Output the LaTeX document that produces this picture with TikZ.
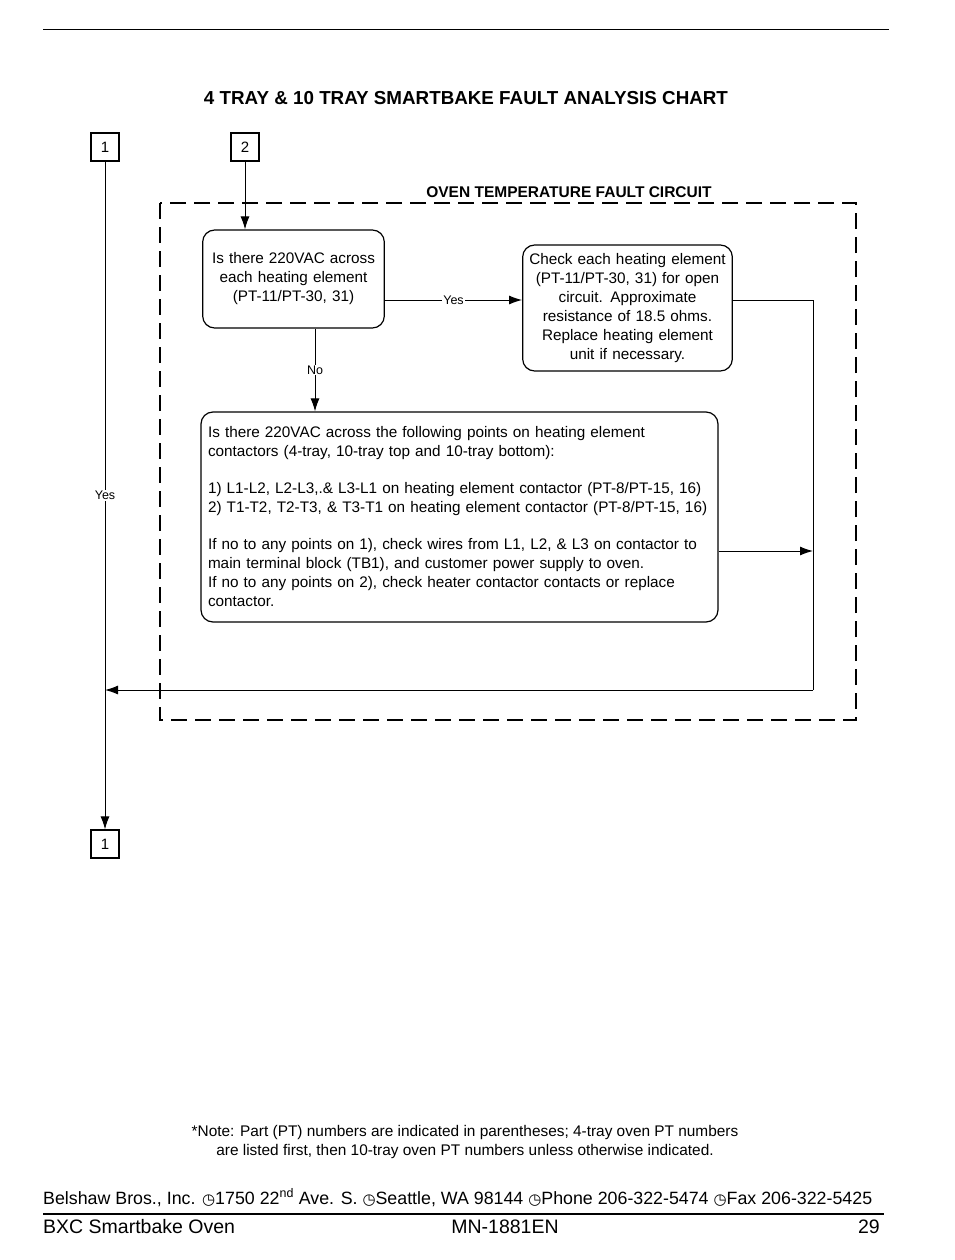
\documentclass[tikz,border=0pt]{standalone}
\usepackage{fontspec}
\setmainfont{Liberation Sans}
\newfontfamily\dingfont{DejaVu Sans}
\usetikzlibrary{arrows.meta}
\tikzset{
  flowbox/.style={draw,line width=1.2pt,rounded corners=12pt,inner ysep=0pt,font=\fontsize{15.3}{19}\selectfont},
  pagebox/.style={draw,line width=1.2pt,minimum size=28pt,inner sep=0pt,font=\fontsize{15}{18}\selectfont},
  flow/.style={line width=1pt,-{Latex[length=13pt,width=9pt]}},
  wire/.style={line width=1pt},
  tag/.style={fill=white,inner sep=1pt,font=\fontsize{12.5}{14}\selectfont}
}
\newcommand{\clk}{{\dingfont\fontsize{15}{16}\selectfont ◷}}

\begin{document}
\begin{tikzpicture}[x=1pt,y=-1pt]
    \useasboundingbox (0,0) rectangle (954,1260);
    \draw[line width=1pt] (43,30) -- (889,30);
    \node[font=\bfseries\fontsize{18.8}{22}\selectfont] (title) at (466,98) {4 TRAY \& 10 TRAY SMARTBAKE FAULT ANALYSIS CHART};
    \node[pagebox] (top1) at (105,147) {1};
    \node[pagebox] (top2) at (245,147) {2};
    \node[pagebox] (end1) at (105,844) {1};
    \draw[line width=2.6pt,dash pattern=on 16pt off 8pt] (160,203) rectangle (856,720);
    \node[font=\bfseries\fontsize{15.5}{16}\selectfont,anchor=base] (circuit) at (569,197) {OVEN TEMPERATURE FAULT CIRCUIT};
    \node[flowbox,text width=175pt,align=center,minimum height=98pt] (q1) at (293.5,279)
        {Is there 220VAC across\\each heating element\\(PT-11/PT-30, 31)};
    \node[flowbox,text width=203pt,align=center,minimum height=126pt] (chk) at (627.5,308)
        {Check each heating element\\(PT-11/PT-30, 31) for open\\circuit.  Approximate\\resistance of 18.5 ohms.\\Replace heating element\\unit if necessary.};
    \node[flowbox,text width=503pt,inner xsep=7pt,align=left,minimum height=210pt] (q2) at (459.5,517)
        {Is there 220VAC across the following points on heating element\\contactors (4-tray, 10-tray top and 10-tray bottom):\\[18pt]
        1) L1-L2, L2-L3,.\& L3-L1 on heating element contactor (PT-8/PT-15, 16)\\2) T1-T2, T2-T3, \& T3-T1 on heating element contactor (PT-8/PT-15, 16)\\[18pt]
        If no to any points on 1), check wires from L1, L2, \& L3 on contactor to\\main terminal block (TB1), and customer power supply to oven.\\If no to any points on 2), check heater contactor contacts or replace\\contactor.};
    \coordinate (back) at (813,690);
    \draw[flow] (top2) -- (top2 |- q1.north);
    \draw[flow] ([yshift=-21pt]q1.east) -- node[tag] {Yes} ([yshift=-21pt]q1.east -| chk.west);
    \draw[flow] ([xshift=21.5pt]q1.south) -- node[tag] {No} ([xshift=21.5pt]q1.south |- q2.north);
    \draw[wire] ([yshift=8pt]chk.east) -| (back);
    \draw[flow] (back) -- (back -| top1);
    \draw[flow] ([yshift=-34pt]q2.east) -- ([yshift=-34pt]q2.east -| back);
    \draw[flow] (top1) -- node[tag] {Yes} (end1);
    \node[align=center,font=\fontsize{15.4}{19}\selectfont] (note) at (465,1142)
        {*Note: Part (PT) numbers are indicated in parentheses; 4-tray oven PT numbers\\are listed first, then 10-tray oven PT numbers unless otherwise indicated.};
    \node[anchor=base west,inner sep=0pt,font=\fontsize{17.8}{22}\selectfont] (addr) at (43,1204)
        {Belshaw Bros., Inc. \clk1750 22\textsuperscript{nd} Ave. S. \clk Seattle, WA 98144 \clk Phone 206-322-5474 \clk Fax 206-322-5425};
    \draw[line width=1.3pt] (43,1214) -- (884,1214);
    \node[anchor=base west,inner sep=0pt,font=\fontsize{19.5}{24}\selectfont] (model) at (43,1233) {BXC Smartbake Oven};
    \node[anchor=base,inner sep=0pt,font=\fontsize{19.5}{24}\selectfont] (manual) at (505,1233) {MN-1881EN};
    \node[anchor=base east,inner sep=0pt,font=\fontsize{19.5}{24}\selectfont] (page) at (880,1233) {29};
\end{tikzpicture}
\end{document}
